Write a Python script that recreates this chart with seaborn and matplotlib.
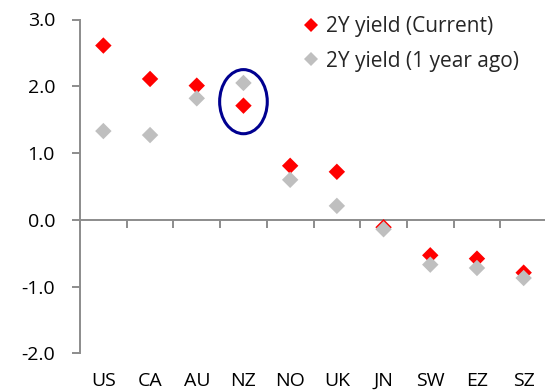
import matplotlib
matplotlib.use("Agg")
import matplotlib.pyplot as plt
from matplotlib.patches import Ellipse
import seaborn as sns
import pandas as pd

countries = ["US", "CA", "AU", "NZ", "NO", "UK", "JN", "SW", "EZ", "SZ"]
yield_current = [2.61, 2.11, 2.01, 1.71, 0.81, 0.72, -0.11, -0.53, -0.58, -0.79]
yield_year_ago = [1.33, 1.27, 1.82, 2.05, 0.60, 0.21, -0.14, -0.67, -0.72, -0.87]
series_names = ["2Y yield (Current)", "2Y yield (1 year ago)"]
y_ticks = [-2.0, -1.0, 0.0, 1.0, 2.0, 3.0]

sns.set_style("white")
plt.rcParams["font.family"] = ["Open Sans", "DejaVu Sans"]
plt.rcParams["axes.unicode_minus"] = False

axis_grey = "#8c8c8c"
red = "#ff0000"
grey = "#bfbfbf"
navy = "#000090"
tick_fs = 14
legend_fs = 15

df = pd.DataFrame({
    "country": countries * 2,
    "value": yield_current + yield_year_ago,
    "series": [series_names[0]] * len(countries) + [series_names[1]] * len(countries),
})

fig = plt.figure(figsize=(5.45, 3.9), dpi=100)
ax = fig.add_axes([0.1468, 0.0936, 0.8569, 0.8564])

sns.scatterplot(data=df, x="country", y="value", hue="series",
                palette={series_names[0]: red, series_names[1]: grey},
                marker="D", s=70, linewidth=0, ax=ax, legend=False, zorder=3)

ax.set_xlim(-0.5, len(countries) - 0.5)
ax.set_ylim(-2, 3)
ax.set_yticks(y_ticks)
ax.set_yticklabels([f"{v:.1f}" for v in y_ticks])
ax.set_xticks(range(len(countries)))
ax.set_xticklabels(countries)
ax.set_xlabel("")
ax.set_ylabel("")

for side in ["top", "right", "bottom"]:
    ax.spines[side].set_visible(False)
ax.spines["left"].set_color(axis_grey)
ax.spines["left"].set_linewidth(1.4)

ax.tick_params(axis="y", direction="out", length=6, width=1.4, color=axis_grey,
               pad=12, labelsize=tick_fs, labelcolor="black", left=True)
ax.tick_params(axis="x", length=0, pad=13, labelsize=tick_fs, labelcolor="black")

# category axis drawn at zero with boundary tick marks
zero_frac = (0 - (-2)) / (3 - (-2))
sec = ax.secondary_xaxis(zero_frac)
sec.set_xticks([i + 0.5 for i in range(-1, len(countries))])
sec.tick_params(axis="x", direction="out", length=6, width=1.4, color=axis_grey,
                labelbottom=False)
sec.spines["bottom"].set_color(axis_grey)
sec.spines["bottom"].set_linewidth(1.4)

# highlight around New Zealand
nz = countries.index("NZ")
ax.add_patch(Ellipse((nz, 1.77), width=1.02, height=0.96, fill=False,
                     edgecolor=navy, linewidth=2.2, zorder=4))

handles = [
    plt.Line2D([], [], marker="D", linestyle="none", markersize=7,
               markerfacecolor=red, markeredgewidth=0, label=series_names[0]),
    plt.Line2D([], [], marker="D", linestyle="none", markersize=7,
               markerfacecolor=grey, markeredgewidth=0, label=series_names[1]),
]
fig.legend(handles=handles, loc="upper left", bbox_to_anchor=(301 / 545, 1 - 16 / 390),
           frameon=False, fontsize=legend_fs, handlelength=1.0, handletextpad=0.2,
           labelspacing=0.65, borderpad=0, borderaxespad=0)

fig.savefig("out.png", dpi=100)
